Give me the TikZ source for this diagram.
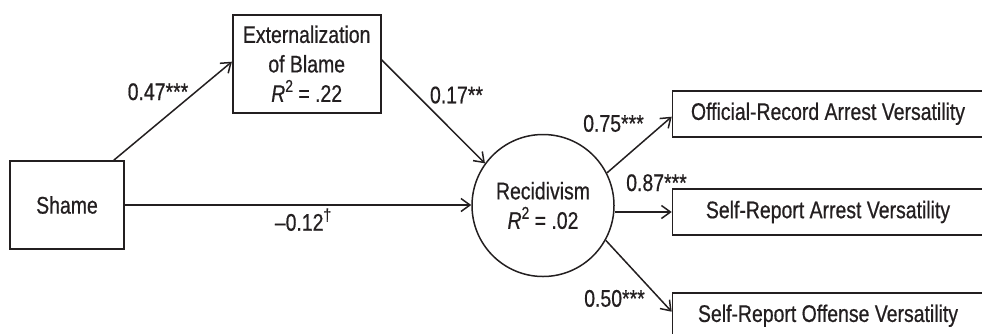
\documentclass[tikz,border=0pt]{standalone}
\usepackage{fontspec}
\setmainfont{Liberation Sans}[FakeStretch=0.81,FakeBold=0.6]
\usetikzlibrary{arrows.meta,calc}
\definecolor{ink}{HTML}{231F20}
\newcommand{\sqd}{\raisebox{0.42em}{\fontsize{17}{17}\selectfont 2}}
\newcommand{\mydagger}{\raisebox{0.42em}{\fontsize{17}{17}\selectfont †}}
\tikzset{
  box/.style={draw=ink, line width=1.6pt, rectangle, inner sep=0pt, align=center},
  latent/.style={draw=ink, line width=1.5pt, circle, inner sep=0pt, minimum size=142pt, align=center},
  path/.style={draw=ink, line width=1.5pt, -{Straight Barb[length=9pt,width=13pt,line width=1.5pt]}},
  coef/.style={anchor=base, inner sep=0pt, text=ink},
}
\begin{document}
\begin{tikzpicture}[x=1pt,y=-1pt, font=\fontsize{24}{29.5}\selectfont, text=ink]
\useasboundingbox (0,0) rectangle (982,333);
\begin{scope}
\clip (0,0) rectangle (982,333);
\node[box, minimum width=114pt, minimum height=88pt] (shame) at (67,205) {Shame};
\node[box, minimum width=148pt, minimum height=98pt] (ext) at (306.7,63.7)
  {Externalization\\of Blame\\\textit{R}\sqd{} = .22};
\node[latent] (rec) at (543,205.5) {Recidivism\\\textit{R}\sqd{} = .02};
\node[box, minimum width=311pt, minimum height=46pt] (off) at (828,113.7) {Official-Record Arrest Versatility};
\node[box, minimum width=311pt, minimum height=46pt] (sra) at (828,212) {Self-Report Arrest Versatility};
\node[box, minimum width=311pt, minimum height=46pt] (sro) at (828,315.7) {Self-Report Offense Versatility};

\draw[path] ([xshift=-11pt]shame.north east) -- ([yshift=2pt]ext.west);
\draw[path] ([yshift=4pt]ext.east) -- (rec.144);
\draw[path] (shame.east) -- (shame.east -| rec.west);
\draw[path] (rec.27) -- ([yshift=-3pt]off.west);
\draw[path] (sra.west -| rec.east) -- (sra.west);
\draw[path] (rec.-29) -- ([yshift=4pt]sro.west);

\node[coef] (c1) at (158,100) {0.47***};
\node[coef] (c2) at (456.5,103.3) {0.17**};
\node[coef] (c3) at (303,230.7) {–0.12\mydagger};
\node[coef] (c4) at (613.5,131.7) {0.75***};
\node[coef] (c5) at (656.5,191) {0.87***};
\node[coef] (c6) at (614.5,306.7) {0.50***};
\end{scope}
\end{tikzpicture}
\end{document}
